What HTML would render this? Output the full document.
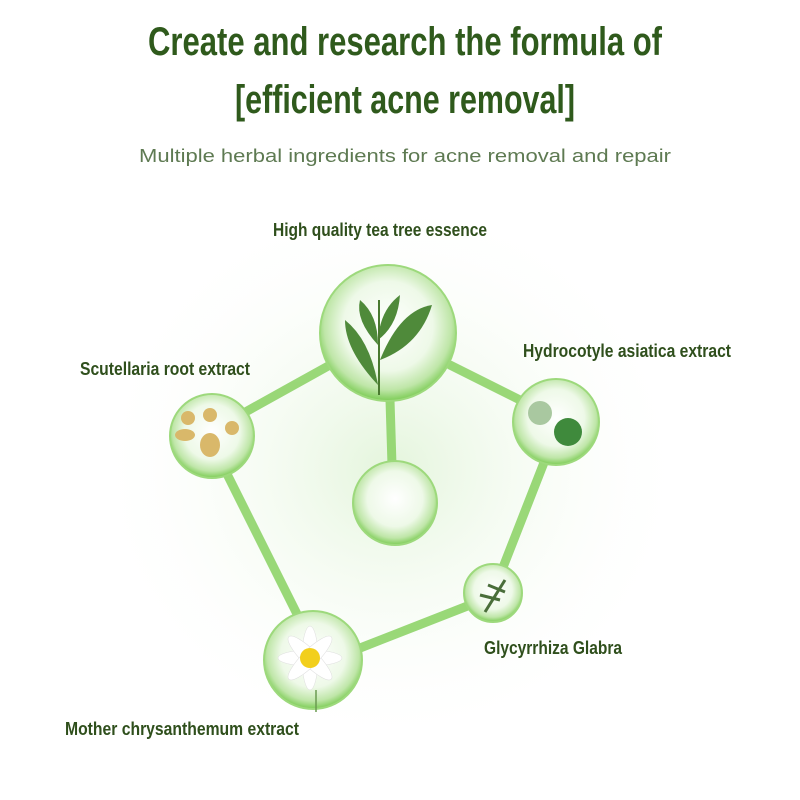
<!DOCTYPE html>
<html><head><meta charset="utf-8"><style>
html,body{margin:0;padding:0;background:#fff;}
svg{display:block}
</style></head><body>
<svg width="800" height="800" viewBox="0 0 800 800" xmlns="http://www.w3.org/2000/svg">
<defs>
<radialGradient id="glow" cx="0.5" cy="0.5" r="0.5">
<stop offset="0" stop-color="#e4f5dc"/><stop offset="1" stop-color="#ffffff" stop-opacity="0"/>
</radialGradient>
<radialGradient id="ball" cx="0.5" cy="0.45" r="0.55">
<stop offset="0" stop-color="#ffffff"/><stop offset="0.6" stop-color="#eef9e8"/><stop offset="0.85" stop-color="#bfe6a8"/><stop offset="1" stop-color="#7ccc55"/>
</radialGradient>
</defs>
<rect width="800" height="800" fill="#fff"/>
<ellipse cx="390" cy="470" rx="300" ry="280" fill="url(#glow)"/>
<g font-family="'Liberation Sans Narrow','Liberation Sans',sans-serif" font-weight="bold" fill="#2f5a1c">
<text x="405" y="55" font-size="40" text-anchor="middle" textLength="514" lengthAdjust="spacingAndGlyphs">Create and research the formula of</text>
<text x="405" y="113" font-size="40" text-anchor="middle" textLength="340" lengthAdjust="spacingAndGlyphs">[efficient acne removal]</text>
</g>
<text x="405" y="162" font-family="'Liberation Sans',sans-serif" font-size="18" fill="#5e7a52" text-anchor="middle" textLength="532" lengthAdjust="spacingAndGlyphs">Multiple herbal ingredients for acne removal and repair</text>
<g stroke="#8fd46a" stroke-width="9" stroke-linecap="round" fill="none" opacity="0.9">
<line x1="330" y1="365" x2="240" y2="415"/>
<line x1="450" y1="365" x2="530" y2="405"/>
<line x1="390" y1="400" x2="392" y2="465"/>
<line x1="225" y1="470" x2="300" y2="620"/>
<line x1="545" y1="460" x2="500" y2="575"/>
<line x1="355" y1="650" x2="470" y2="605"/>
</g>
<g stroke="#9dd97c" stroke-width="2">
<circle cx="388" cy="333" r="68" fill="url(#ball)"/>
<circle cx="212" cy="436" r="42" fill="url(#ball)"/>
<circle cx="556" cy="422" r="43" fill="url(#ball)"/>
<circle cx="395" cy="503" r="42" fill="url(#ball)"/>
<circle cx="493" cy="593" r="29" fill="url(#ball)"/>
<circle cx="313" cy="660" r="49" fill="url(#ball)"/>
</g>
<!-- tea leaves -->
<g fill="#4f8a3a">
<path d="M378 385 Q345 350 345 320 Q370 340 378 385Z"/>
<path d="M380 360 Q400 310 432 305 Q420 345 380 360Z"/>
<path d="M378 340 Q380 310 400 295 Q398 325 378 340Z"/>
<path d="M378 345 Q355 320 360 300 Q378 315 378 345Z"/>
</g>
<line x1="379" y1="300" x2="379" y2="395" stroke="#4a7a30" stroke-width="2"/>
<!-- roots -->
<g fill="#d9b86a">
<circle cx="188" cy="418" r="7"/><circle cx="210" cy="415" r="7"/><circle cx="232" cy="428" r="7"/>
<ellipse cx="210" cy="445" rx="10" ry="12"/><ellipse cx="185" cy="435" rx="10" ry="6"/>
</g>
<!-- hydrocotyle -->
<circle cx="540" cy="413" r="12" fill="#a9c8a0"/>
<circle cx="568" cy="432" r="14" fill="#3f8a3c"/>
<!-- glycyrrhiza -->
<g stroke="#4a6e3a" stroke-width="3"><line x1="485" y1="612" x2="505" y2="580"/><line x1="480" y1="595" x2="500" y2="600"/><line x1="488" y1="585" x2="505" y2="592"/></g>
<!-- daisy -->
<g fill="#fff" stroke="#ddd" stroke-width="0.5">
<ellipse cx="310" cy="658" rx="32" ry="8"/><ellipse cx="310" cy="658" rx="8" ry="32"/>
<ellipse cx="310" cy="658" rx="30" ry="8" transform="rotate(45 310 658)"/><ellipse cx="310" cy="658" rx="30" ry="8" transform="rotate(-45 310 658)"/>
</g>
<circle cx="310" cy="658" r="10" fill="#f2cf1c"/>
<line x1="316" y1="690" x2="316" y2="712" stroke="#6a9a50" stroke-width="1.5"/>
<g font-family="'Liberation Sans Narrow','Liberation Sans',sans-serif" font-weight="bold" fill="#2f4f1c" font-size="18">
<text x="273" y="236" textLength="214" lengthAdjust="spacingAndGlyphs">High quality tea tree essence</text>
<text x="80" y="375" textLength="170" lengthAdjust="spacingAndGlyphs">Scutellaria root extract</text>
<text x="523" y="357" textLength="208" lengthAdjust="spacingAndGlyphs">Hydrocotyle asiatica extract</text>
<text x="484" y="654" textLength="138" lengthAdjust="spacingAndGlyphs">Glycyrrhiza Glabra</text>
<text x="65" y="735" textLength="234" lengthAdjust="spacingAndGlyphs">Mother chrysanthemum extract</text>
</g>
</svg>
</body></html>
